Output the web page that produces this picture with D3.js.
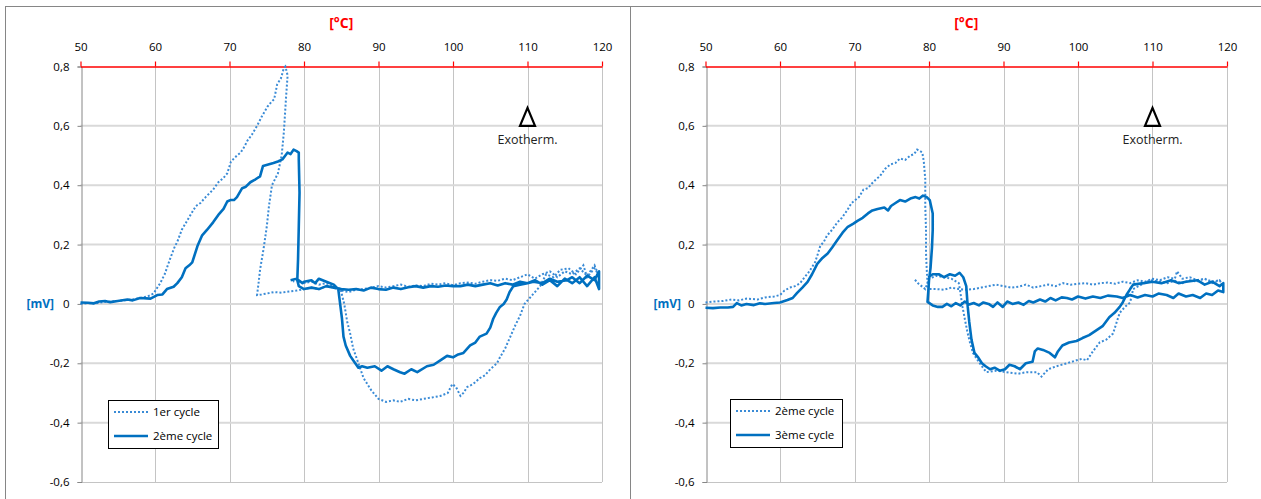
<!DOCTYPE html>
<html><head><meta charset="utf-8">
<script src="https://cdn.jsdelivr.net/npm/d3@7"></script>
<style>
html,body{margin:0;padding:0;background:#fff;}
svg{display:block;font-family:"Open Sans",sans-serif;}
</style></head>
<body>
<svg id="c" width="1261" height="499"></svg>
<script>
// ---------- data ----------
const xTicks = [50,60,70,80,90,100,110,120];
const yTicks = [0.8,0.6,0.4,0.2,0,-0.2,-0.4,-0.6];
const xLabel = "[°C]";
const yLabel = "[mV]";
const annotation = "Exotherm.";

const legendLeft = ["1er cycle","2ème cycle"];
const legendRight = ["2ème cycle","3ème cycle"];

// Left chart, dotted: 1er cycle  [T (°C), signal (mV)]
const cycle1 = [
[50,0.0],[51,0.003],[52,0.002],[53,0.006],[54,0.008],[55,0.01],[56,0.012],[57,0.015],[58,0.02],[59,0.025],[59.8,0.035],[60.7,0.07],[61.3,0.1],[62,0.15],[62.6,0.19],[63,0.21],[63.6,0.25],[64.3,0.28],[65,0.31],[65.5,0.33],[66.1,0.34],[66.8,0.36],[67.8,0.385],[68.5,0.41],[69.2,0.425],[69.7,0.44],[70.2,0.48],[70.6,0.49],[71,0.5],[71.5,0.51],[72,0.53],[72.4,0.55],[73,0.57],[73.7,0.6],[74.3,0.63],[75.1,0.665],[75.6,0.68],[76,0.69],[76.4,0.74],[76.9,0.76],[77.3,0.795],[77.5,0.8],[77.8,0.77],[77.6,0.7],[77.4,0.62],[77.3,0.58],[77.0,0.5],[76.5,0.44],[75.7,0.4],[75.3,0.33],[75.0,0.26],[74.6,0.19],[74.1,0.115],[73.9,0.07],[73.7,0.03],[74.3,0.032],[75,0.035],[76,0.04],[77,0.038],[78,0.042],[79,0.045],[80,0.05],[81,0.055],[82,0.05],[83,0.06],[84,0.055],[85,0.045],[86,0.04],[87,0.048],[88,0.05],[89,0.055],[90,0.06],[91,0.055],[92,0.06],[93,0.065],[94,0.058],[95,0.062],[96,0.06],[97,0.068],[98,0.065],[99,0.07],[100,0.063],[101,0.07],[102,0.072],[103,0.068],[104,0.075],[105,0.08],[106,0.078],[107,0.085],[108,0.08],[109,0.09],[110,0.1],[111,0.085],[112,0.1],[113,0.11],[114,0.09],[115,0.11],[116,0.1],[117,0.12],[118,0.095],[119,0.13],[119.5,0.1],
[119,0.12],[118,0.09],[117.5,0.13],[116.5,0.1],[115.5,0.12],[114.4,0.115],[113.5,0.09],[112.5,0.1],[111.7,0.06],[111,0.04],[110.3,0.02],[109.6,0.0],[109,-0.04],[108.4,-0.07],[107.7,-0.11],[107,-0.15],[106.3,-0.18],[105.9,-0.2],[105,-0.22],[104.3,-0.24],[103.6,-0.25],[102.7,-0.27],[101.9,-0.28],[101.4,-0.3],[101,-0.31],[100.4,-0.28],[99.9,-0.27],[99.3,-0.3],[98.3,-0.31],[97.2,-0.315],[96,-0.32],[95,-0.325],[94,-0.32],[92.9,-0.33],[92,-0.325],[91,-0.33],[90,-0.32],[89,-0.29],[88,-0.25],[87.3,-0.2],[86.6,-0.15],[86.2,-0.1],[85.8,-0.06],[85.4,0.0],[84.9,0.05],[84,0.06],[83,0.07],[82,0.065],[81,0.075],[80,0.07],[79,0.08],[78.5,0.075]
];

// Left chart, solid: 2ème cycle
const cycle2L = [
[50,0.005],[51,0.004],[51.8,0.002],[52.5,0.008],[53.3,0.01],[54,0.006],[55,0.01],[56.3,0.015],[57,0.012],[58,0.02],[59.4,0.018],[60.3,0.03],[61,0.032],[61.6,0.05],[62.5,0.058],[63,0.07],[63.6,0.09],[64.1,0.12],[64.6,0.13],[65,0.14],[65.7,0.195],[66.3,0.23],[67,0.25],[67.8,0.275],[68.5,0.3],[69.2,0.32],[69.7,0.345],[70.1,0.35],[70.6,0.35],[71,0.36],[71.7,0.39],[72.2,0.395],[72.8,0.41],[73.5,0.42],[74.1,0.43],[74.5,0.465],[75.2,0.47],[75.9,0.475],[76.5,0.48],[77.1,0.487],[77.5,0.5],[77.8,0.51],[78.2,0.505],[78.6,0.52],[79,0.515],[79.3,0.51],[79.3,0.487],[79.4,0.375],[79.3,0.26],[79.2,0.15],[79.1,0.08],[79.3,0.06],[80,0.05],[81,0.055],[82,0.05],[83,0.06],[84,0.055],[85,0.05],[86,0.048],[87,0.05],[88,0.045],[89,0.055],[90,0.05],[91,0.048],[92,0.055],[93,0.05],[94,0.056],[95,0.06],[96,0.055],[97,0.06],[98,0.058],[99,0.062],[100,0.06],[101,0.06],[102,0.065],[103,0.06],[104,0.065],[105,0.07],[106,0.062],[107,0.07],[108,0.065],[109,0.075],[110,0.07],[111,0.08],[112,0.065],[113,0.08],[114,0.06],[115,0.085],[116,0.07],[117,0.09],[118,0.06],[119,0.09],[119.6,0.05],[119.6,0.11],
[119,0.08],[118,0.095],[117,0.07],[116,0.09],[115.3,0.08],[114,0.075],[113,0.085],[112,0.07],[110.8,0.075],[110,0.07],[109,0.065],[108.1,0.06],[107.6,0.04],[107.2,0.015],[106.8,0.0],[106.3,-0.01],[105.8,-0.03],[105.4,-0.05],[105,-0.08],[104.5,-0.1],[103.6,-0.11],[103,-0.13],[102.3,-0.14],[101.4,-0.165],[100.7,-0.17],[100,-0.18],[99.2,-0.175],[98.3,-0.19],[97.4,-0.205],[96.5,-0.21],[95.2,-0.23],[94.4,-0.22],[93.5,-0.235],[92.9,-0.23],[92,-0.22],[91.2,-0.21],[90.4,-0.225],[89.5,-0.21],[88.5,-0.215],[87.8,-0.21],[87.3,-0.215],[86.6,-0.19],[86.2,-0.175],[85.6,-0.14],[85.3,-0.11],[85.1,-0.05],[84.9,-0.01],[84.6,0.05],[84,0.065],[83,0.075],[82,0.085],[81.5,0.07],[81,0.08],[80,0.075],[79.8,0.07],[79,0.085],[78.2,0.08]
];

// Right chart, dotted: 2ème cycle
const cycle2R = [
[50,0.005],[51,0.008],[52.4,0.01],[53.5,0.015],[54.5,0.012],[55.5,0.018],[57,0.015],[58,0.022],[59.2,0.025],[60,0.03],[60.6,0.045],[61.3,0.055],[62,0.06],[62.7,0.07],[63.3,0.09],[63.8,0.105],[64.2,0.12],[64.7,0.14],[65.1,0.17],[65.4,0.195],[65.9,0.21],[66.3,0.23],[67,0.25],[67.7,0.275],[68.3,0.29],[69,0.315],[69.6,0.34],[70.1,0.35],[70.6,0.36],[71.2,0.385],[71.8,0.39],[72.3,0.405],[72.9,0.42],[73.4,0.43],[74.1,0.455],[74.8,0.47],[75.5,0.475],[76.1,0.49],[76.8,0.485],[77.5,0.5],[78,0.505],[78.4,0.52],[78.8,0.515],[79.1,0.51],[79.3,0.48],[79.5,0.42],[79.5,0.33],[79.6,0.25],[79.6,0.17],[79.7,0.115],[79.8,0.07],[80,0.05],[81,0.05],[82,0.048],[83,0.055],[84,0.05],[85,0.048],[86,0.05],[87,0.055],[88,0.06],[89,0.065],[90,0.06],[91,0.055],[92,0.058],[93,0.065],[94,0.055],[95,0.06],[96,0.065],[97,0.06],[98,0.07],[99,0.065],[100,0.068],[101,0.07],[102,0.065],[103,0.07],[104,0.072],[105,0.068],[106,0.075],[107,0.07],[108,0.08],[109,0.075],[110,0.085],[111,0.08],[112,0.09],[113,0.085],[113.3,0.11],[114,0.085],[115,0.09],[116,0.08],[117,0.085],[118,0.07],[119,0.08],[119.5,0.06],
[119,0.08],[118,0.075],[117,0.085],[116,0.075],[115,0.08],[114,0.07],[113,0.078],[112,0.07],[111,0.075],[109.7,0.08],[108.5,0.065],[107.4,0.05],[107,0.005],[106.3,-0.01],[105.6,-0.03],[104.7,-0.1],[103.8,-0.12],[102.9,-0.13],[102,-0.16],[101.2,-0.19],[100.5,-0.185],[99.8,-0.19],[98.5,-0.2],[97.1,-0.21],[96,-0.22],[95.1,-0.245],[94.5,-0.23],[93.1,-0.23],[92,-0.235],[90.4,-0.23],[89,-0.225],[87.7,-0.23],[86.8,-0.2],[85.9,-0.165],[85.5,-0.13],[85.2,-0.1],[84.8,-0.05],[84.5,-0.01],[84.2,0.04],[84,0.07],[83,0.085],[82,0.09],[81,0.095],[80.5,0.09],[80,0.085],[79.5,0.05],[79,0.06],[78.5,0.07],[78.1,0.082]
];

// Right chart, solid: 3ème cycle
const cycle3 = [
[50,-0.013],[51,-0.014],[52,-0.012],[53,-0.012],[53.7,-0.01],[54.2,0.003],[54.8,-0.005],[55.5,0.0],[56.5,-0.004],[57.3,0.002],[58,0.0],[59.2,0.003],[60,0.005],[61,0.013],[61.7,0.02],[62.3,0.037],[63,0.055],[63.7,0.074],[64.3,0.1],[65,0.135],[65.7,0.155],[66.4,0.17],[67,0.19],[67.7,0.215],[68.4,0.24],[69.1,0.26],[69.8,0.27],[70.4,0.28],[71.1,0.29],[71.8,0.305],[72.4,0.315],[73.1,0.32],[74,0.325],[74.5,0.315],[74.9,0.33],[75.5,0.34],[76.1,0.35],[76.8,0.345],[77.5,0.355],[78.2,0.36],[78.7,0.355],[79.2,0.365],[79.7,0.36],[80.1,0.35],[80.5,0.305],[80.5,0.25],[80.4,0.19],[80.2,0.12],[80,0.08],[79.9,0.04],[79.8,0.007],[80.5,-0.005],[81.2,-0.01],[81.8,-0.01],[82.4,0.0],[83,-0.008],[83.6,0.003],[84.2,-0.005],[84.8,0.008],[85.4,-0.002],[86,0.003],[86.7,-0.005],[87.3,0.005],[88,0.0],[88.6,-0.01],[89.2,0.005],[89.9,-0.01],[90.5,0.008],[91.2,0.0],[92,0.005],[92.7,-0.003],[93.4,0.01],[94,0.005],[94.9,0.015],[95.6,0.008],[96.3,0.02],[97,0.012],[97.8,0.022],[98.5,0.02],[99.2,0.015],[100,0.025],[101,0.018],[102,0.025],[103,0.02],[104,0.028],[105.2,0.025],[106,0.02],[107,0.03],[108,0.022],[109,0.03],[110,0.025],[110.8,0.035],[111.9,0.03],[112.8,0.02],[113.5,0.035],[114.5,0.025],[115.4,0.03],[116.4,0.02],[117.2,0.035],[118,0.03],[118.8,0.045],[119.5,0.04],
[119.5,0.07],[119,0.06],[118,0.075],[117,0.065],[116,0.08],[114.5,0.075],[113.5,0.07],[112.5,0.08],[111.2,0.07],[110,0.075],[108.8,0.07],[107.4,0.065],[107,0.05],[106.5,0.03],[106,0.005],[105.6,-0.01],[104.9,-0.03],[104.2,-0.045],[103.3,-0.075],[102.4,-0.09],[101.5,-0.105],[100.6,-0.115],[99.8,-0.125],[98.8,-0.13],[97.9,-0.14],[97.3,-0.16],[96.9,-0.18],[96.2,-0.165],[95.3,-0.155],[94.6,-0.15],[94.2,-0.16],[93.9,-0.195],[93,-0.2],[92.2,-0.22],[91.5,-0.21],[90.8,-0.205],[90.2,-0.22],[89.5,-0.225],[88.8,-0.215],[88.2,-0.22],[87.6,-0.21],[87.1,-0.2],[86.6,-0.18],[86.1,-0.165],[85.7,-0.12],[85.4,-0.06],[85.2,-0.01],[85,0.06],[84.6,0.09],[84.1,0.105],[83.5,0.095],[82.8,0.1],[82,0.09],[81.3,0.1],[80.5,0.1],[79.9,0.09]
];

// ---------- drawing ----------
const svg = d3.select("#c");
const SOLID = "#0070C0", DOT = "#3A8BD6";

// outer frames
svg.append("rect").attr("x",5.5).attr("y",6.5).attr("width",625).attr("height",520)
  .attr("fill","none").attr("stroke","#868686");
svg.append("rect").attr("x",630.5).attr("y",6.5).attr("width",640).attr("height",520)
  .attr("fill","none").attr("stroke","#868686");

function chart(x0, x1, dotted, solid, names, legendPos, ylabX){
  const x = d3.scaleLinear().domain([50,120]).range([x0,x1]);
  const y = d3.scaleLinear().domain([-0.6,0.8]).range([482,66.5]);
  const g = svg.append("g");

  // vertical grid
  g.append("g").selectAll("line").data(xTicks.slice(1)).join("line")
    .attr("x1",d=>Math.round(x(d))+0.5).attr("x2",d=>Math.round(x(d))+0.5)
    .attr("y1",y(0.8)).attr("y2",y(-0.6)).attr("stroke","#c4c4c4").attr("stroke-width",1);
  // horizontal grid
  g.append("g").selectAll("line").data(yTicks.filter(d=>d<0.8 && d>-0.6)).join("line")
    .attr("x1",x0).attr("x2",x1).attr("y1",d=>y(d)).attr("y2",d=>y(d))
    .attr("stroke","#d9d9d9").attr("stroke-width",2);
  g.append("line").attr("x1",x0).attr("x2",x1).attr("y1",y(-0.6)+0.5).attr("y2",y(-0.6)+0.5)
    .attr("stroke","#c4c4c4");

  // left axis
  const ya = d3.axisLeft(y).tickValues(yTicks).tickSize(4).tickPadding(8)
    .tickFormat(d=> d===0 ? "0" : d3.format(".1f")(d).replace(".",",").replace("−","-"));
  const yg = g.append("g").attr("transform",`translate(${Math.round(x0)+0.5},0)`).call(ya);
  yg.select(".domain").attr("stroke","#868686");
  yg.selectAll(".tick line").attr("stroke","#868686");
  yg.selectAll("text").attr("font-size",11.5).attr("fill","#000").attr("font-family","Open Sans");

  // top axis (red)
  const xa = d3.axisTop(x).tickValues(xTicks).tickSize(5).tickSizeOuter(0).tickPadding(11);
  const xg = g.append("g").attr("transform",`translate(0,${y(0.8)})`).call(xa);
  xg.select(".domain").attr("stroke","#ff0000").attr("stroke-width",1.5);
  xg.selectAll(".tick line").attr("stroke","#ff0000").attr("stroke-width",1.2).attr("y2",-5).attr("y1",0);
  xg.selectAll("text").attr("font-size",11.5).attr("fill","#000").attr("font-family","Open Sans");

  // axis titles
  g.append("text").attr("x",x(85)).attr("y",28)
    .attr("text-anchor","middle").attr("font-weight","bold").attr("font-size",14)
    .attr("fill","#ff0000").text(xLabel);
  g.append("text").attr("x",ylabX).attr("y",y(0)+4.5).attr("text-anchor","end")
    .attr("font-weight","bold").attr("font-size",12).attr("fill",SOLID).text(yLabel);

  // series
  const line = d3.line().x(d=>x(d[0])).y(d=>y(d[1]));
  g.append("path").datum(dotted).attr("d",line).attr("fill","none")
    .attr("stroke",DOT).attr("stroke-width",2).attr("stroke-dasharray","2,2");
  g.append("path").datum(solid).attr("d",line).attr("fill","none")
    .attr("stroke",SOLID).attr("stroke-width",2.6).attr("stroke-linejoin","round");

  // exotherm marker
  const tx = x(110), ty = y(0.6);
  g.append("path").attr("d",`M${tx},${ty-18} L${tx-7.5},${ty} L${tx+7.5},${ty} Z`)
    .attr("fill","#fff").attr("stroke","#000").attr("stroke-width",2.2);
  g.append("text").attr("x",tx).attr("y",ty+18).attr("text-anchor","middle")
    .attr("font-size",12.5).attr("fill","#222").text(annotation);

  // legend
  const [lx,ly,lw,lh] = legendPos;
  const lg = g.append("g");
  lg.append("rect").attr("x",lx+0.5).attr("y",ly+0.5).attr("width",lw).attr("height",lh)
    .attr("fill","#fff").attr("stroke","#000");
  lg.append("line").attr("x1",lx+6).attr("x2",lx+40).attr("y1",ly+12).attr("y2",ly+12)
    .attr("stroke",DOT).attr("stroke-width",2).attr("stroke-dasharray","2,2");
  lg.append("line").attr("x1",lx+6).attr("x2",lx+40).attr("y1",ly+36).attr("y2",ly+36)
    .attr("stroke",SOLID).attr("stroke-width",2.6);
  lg.append("text").attr("x",lx+45).attr("y",ly+16).attr("font-size",11.5).attr("fill","#000").text(names[0]);
  lg.append("text").attr("x",lx+45).attr("y",ly+40).attr("font-size",11.5).attr("fill","#000").text(names[1]);
}

chart(80.5, 602, cycle1, cycle2L, legendLeft, [108,400,110,48], 54);
chart(705.5, 1227, cycle2R, cycle3, legendRight, [730,399,112,48], 681);
</script>
</body></html>
